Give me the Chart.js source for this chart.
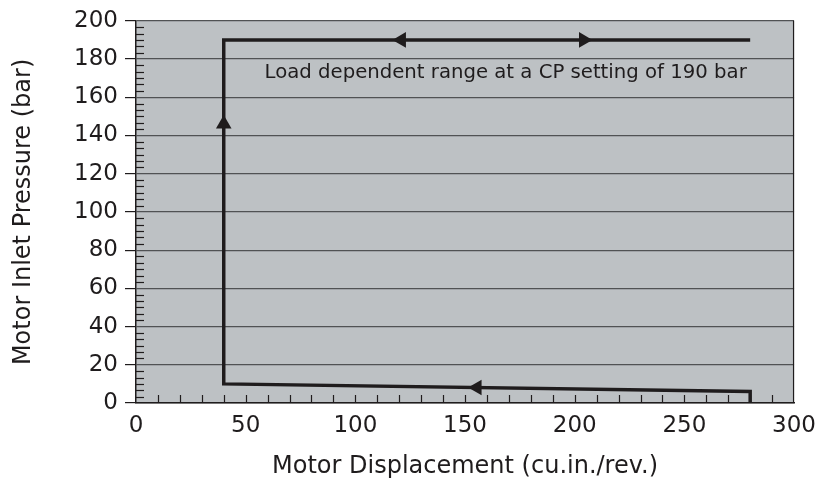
<!DOCTYPE html>
<html>
<head>
<meta charset="utf-8">
<script src="https://cdn.jsdelivr.net/npm/chart.js@4/dist/chart.umd.min.js"></script>
<style>
  html, body { margin: 0; padding: 0; background: #ffffff; }
  #wrap { width: 825px; height: 481px; position: relative; }
</style>
</head>
<body>
<div id="wrap"><canvas id="c" width="825" height="481"></canvas></div>
<script>
// ---- data ----
const pathX = [280, 280, 40, 40, 280];
const pathY = [0, 6, 10, 190, 190];
const arrowX = [40, 121, 204, 155.5];
const arrowY = [146, 190, 190, 8.1];
const arrowRotation = [0, 270, 90, 270];
const xTickValues = [0, 50, 100, 150, 200, 250, 300];
const yTickValues = [0, 20, 40, 60, 80, 100, 120, 140, 160, 180, 200];
const xMinorStep = 10;
const yMinorStep = 20 / 6;
const noteText = 'Load dependent range at a CP setting of 190 bar';
const noteAt = [58.6, 173];
const xTitle = 'Motor Displacement (cu.in./rev.)';
const yTitle = 'Motor Inlet Pressure (bar)';

const INK = '#1f1c1d';
const PLOT_BG = '#bdc1c4';
const GRID = '#505254';
const FONT = "'DejaVu Sans', sans-serif";

const pathData = pathX.map((x, i) => ({ x: x, y: pathY[i] }));
const arrowData = arrowX.map((x, i) => ({ x: x, y: arrowY[i] }));

const plotPlugin = {
  id: 'plotDecor',
  beforeDraw(chart) {
    const { ctx, chartArea: a } = chart;
    ctx.save();
    ctx.fillStyle = PLOT_BG;
    ctx.fillRect(a.left, a.top, a.right - a.left, a.bottom - a.top);
    ctx.restore();
  },
  beforeDatasetsDraw(chart) {
    const { ctx, chartArea: a, scales } = chart;
    const xs = scales.x, ys = scales.y;
    ctx.save();
    ctx.strokeStyle = INK;
    ctx.lineWidth = 1.2;
    // minor ticks along x (inside, pointing up)
    for (let v = xMinorStep; v < 300 - 1e-6; v += xMinorStep) {
      const px = Math.round(xs.getPixelForValue(v)) + 0.5;
      ctx.beginPath();
      ctx.moveTo(px, a.bottom);
      ctx.lineTo(px, a.bottom - 8);
      ctx.stroke();
    }
    // minor ticks along y (inside, pointing right)
    for (let k = 1; k < 60; k++) {
      if (k % 6 === 0) continue;
      const v = k * yMinorStep;
      const py = Math.round(ys.getPixelForValue(v)) + 0.5;
      ctx.beginPath();
      ctx.moveTo(a.left, py);
      ctx.lineTo(a.left + 8, py);
      ctx.stroke();
    }
    // right border
    ctx.beginPath();
    ctx.moveTo(a.right - 0.5, a.top);
    ctx.lineTo(a.right - 0.5, a.bottom);
    ctx.stroke();
    // annotation
    ctx.fillStyle = INK;
    ctx.font = "19.7px " + FONT;
    ctx.textAlign = 'left';
    ctx.textBaseline = 'middle';
    ctx.fillText(noteText, xs.getPixelForValue(noteAt[0]), ys.getPixelForValue(noteAt[1]));
    ctx.restore();
  }
};

new Chart(document.getElementById('c'), {
  type: 'scatter',
  data: {
    datasets: [
      {
        data: pathData,
        showLine: true,
        borderColor: INK,
        borderWidth: 3.5,
        pointRadius: 0,
        fill: false,
        tension: 0,
        borderJoinStyle: 'miter',
        borderCapStyle: 'butt'
      },
      {
        data: arrowData,
        showLine: false,
        pointStyle: 'triangle',
        pointRadius: 9,
        rotation: arrowRotation,
        backgroundColor: INK,
        borderColor: INK,
        borderWidth: 0
      }
    ]
  },
  options: {
    responsive: false,
    animation: false,
    devicePixelRatio: 1,
    layout: { padding: { top: 20, right: 29, bottom: 0, left: 0 } },
    plugins: { legend: { display: false }, tooltip: { enabled: false } },
    scales: {
      x: {
        type: 'linear',
        min: 0, max: 300,
        afterBuildTicks(scale) { scale.ticks = xTickValues.map(v => ({ value: v })); },
        afterFit(scale) { scale.height = 78; },
        grid: { display: false, drawTicks: false },
        border: { display: true, color: INK, width: 1.5 },
        ticks: {
          color: INK,
          font: { family: FONT, size: 23 },
          padding: 9,
          maxRotation: 0,
          autoSkip: false
        },
        title: {
          display: true,
          text: xTitle,
          color: INK,
          font: { family: FONT, size: 24 },
          padding: { top: 0, bottom: 0 }
        }
      },
      y: {
        type: 'linear',
        min: 0, max: 200,
        afterBuildTicks(scale) { scale.ticks = yTickValues.map(v => ({ value: v })); },
        afterFit(scale) { scale.width = 136; },
        grid: { color: GRID, lineWidth: 1.2, tickLength: 11, drawTicks: true, tickColor: INK },
        border: { display: true, color: INK, width: 1.5 },
        ticks: {
          color: INK,
          font: { family: FONT, size: 23 },
          padding: 7,
          autoSkip: false
        },
        title: {
          display: true,
          text: yTitle,
          color: INK,
          font: { family: FONT, size: 24 },
          padding: { top: 9, bottom: 0 }
        }
      }
    }
  },
  plugins: [plotPlugin]
});
</script>
</body>
</html>
